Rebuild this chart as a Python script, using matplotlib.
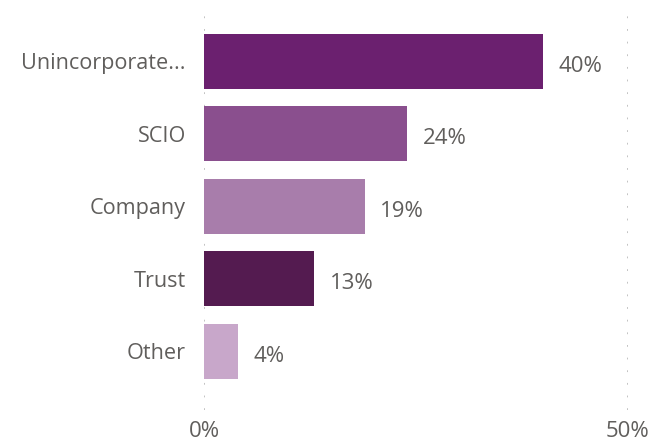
import numpy as np
import matplotlib.pyplot as plt

plt.rcParams['font.family'] = ['Open Sans', 'DejaVu Sans']

categories = ['Unincorporate...', 'SCIO', 'Company', 'Trust', 'Other']
values = [40, 24, 19, 13, 4]
colors = ['#6B206F', '#8A4F8E', '#A87DAB', '#541B50', '#C8A7CA']
ticks = [0, 50]
tick_labels = ['0%', '50%']

text_col = '#605E5C'

fig = plt.figure(figsize=(6.54, 4.46), dpi=100)
ax = fig.add_axes([0.312, 0.081, 0.648, 0.897])

y = np.arange(len(categories))
ax.barh(y, values, height=0.76, color=colors, zorder=2)

for yi, v in zip(y, values):
    ax.text(v + 1.8, yi + 0.07, f'{v}%', va='center', ha='left',
            fontsize=16, color=text_col)

ax.set_xlim(0, 50)
ax.set_ylim(4.81, -0.71)
ax.set_yticks(y)
ax.set_yticklabels(categories, fontsize=15.6, color=text_col)
ax.set_xticks(ticks)
ax.set_xticklabels(tick_labels, fontsize=16, color=text_col)
ax.tick_params(axis='both', length=0)
ax.tick_params(axis='y', pad=13)
ax.tick_params(axis='x', pad=8)

for s in ax.spines.values():
    s.set_visible(False)
ax.grid(axis='x', color='#BDBDBD', linestyle=(0, (1, 6)), linewidth=1.3, zorder=0)

plt.savefig('out.png', dpi=100)
